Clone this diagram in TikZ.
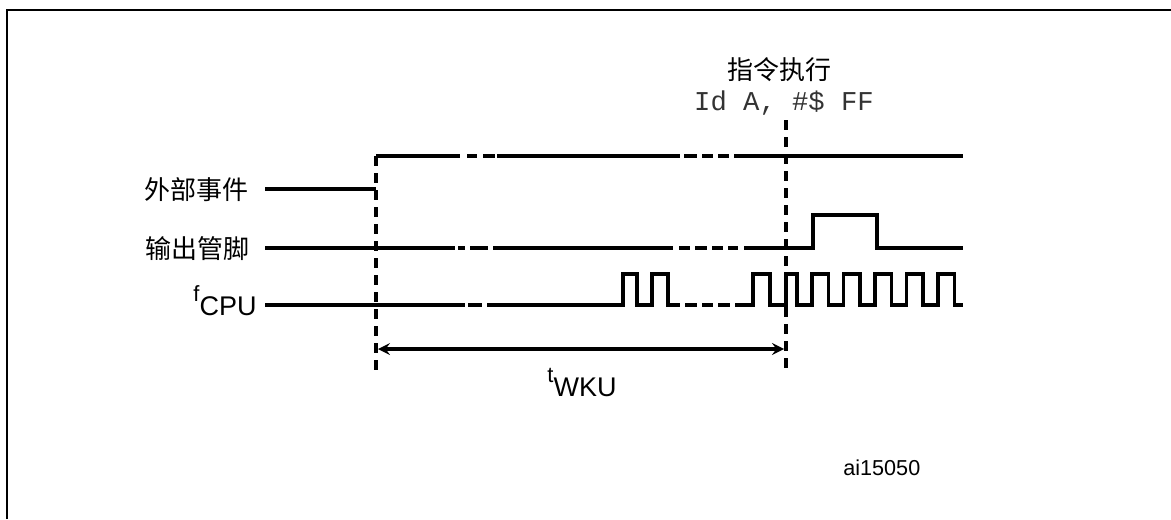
\documentclass[tikz,border=0pt]{standalone}
\usepackage{fontspec}
\setmainfont{Liberation Sans}
\newfontfamily\cjk{Noto Sans CJK SC}
\newfontfamily\cour{Liberation Mono}

\tikzset{
  wave/.style={line width=1.7pt, line join=miter},
  guide/.style={line width=1.6pt, dash pattern=on 5pt off 3.5pt},
  cjklabel/.style={font=\cjk\fontsize{13}{15}\selectfont, inner sep=0pt},
}

\begin{document}
\begin{tikzpicture}[x=0.5pt,y=-0.5pt]

  \useasboundingbox (0,0) rectangle (1171,519);
  \draw[line width=1.3pt] (7,519) -- (7,10) -- (1171,10);

  \node[cjklabel, anchor=east] (ext) at (249,190) {外部事件};
  \node[cjklabel, anchor=east] (pin) at (250,249) {输出管脚};
  \node[anchor=base east, inner sep=0pt, font=\fontsize{13.5}{15}\selectfont] (fcpu) at (257,315)
    {\raisebox{7pt}{\fontsize{11}{12}\selectfont f}CPU};

  \node[cjklabel] (instr) at (779,70) {指令执行};
  \node[inner sep=0pt, text=black!80, font=\cour\fontsize{13.6}{15}\selectfont] (code) at (784,103) {Id A, \#\$ FF};

  % external event
  \draw[wave] (265,189) -- (376,189);
  \draw[wave] (376,156) -- (460,156);
  \foreach \a/\b in {467/477, 483/495, 684/697, 702/713, 718/729} \draw[wave] (\a,156) -- (\b,156);
  \draw[wave] (497,156) -- (680,156);
  \draw[wave] (734,156) -- (963,156);

  % output pin
  \draw[wave] (265,248) -- (455,248);
  \foreach \a/\b in {458/465, 470/488, 679/690, 695/707, 712/723, 728/738} \draw[wave] (\a,248) -- (\b,248);
  \draw[wave] (493,248) -- (673,248);
  \draw[wave] (744,248) -- (813,248) -- (813,215) -- (877,215) -- (877,248) -- (963,248);

  % cpu clock
  \draw[wave] (265,305) -- (465,305);
  \foreach \a/\b in {468/482, 685/697, 702/713, 718/730} \draw[wave] (\a,305) -- (\b,305);
  \draw[wave] (487,305) -- (623,305) -- (623,274) -- (637,274) -- (637,305) -- (652,305)
    -- (652,274) -- (668,274) -- (668,305) -- (680,305);
  \draw[wave] (735,305) -- (753,305) -- (753,274) -- (770,274) -- (770,305) -- (786,305)
    -- (786,274) -- (797,274) -- (797,305)
    \foreach \r in {812,843.5,875,906.5,938} { -- (\r,305) -- (\r,274) -- (\r+16.5,274) -- (\r+16.5,305) }
    -- (963,305);

  % wake-up time
  \coordinate (w0) at (376,156);
  \coordinate (w1) at (376,376);
  \coordinate (x0) at (786,120);
  \coordinate (x1) at (786,374);
  \draw[guide] (w0) -- (w1);
  \draw[guide] (x0) -- (x1);
  \coordinate (a0) at (378,349);
  \coordinate (a1) at (784,349);
  \draw[<->, >=stealth, line width=1.6pt] (a0) -- (a1);
  \node[anchor=base, inner sep=0pt, font=\fontsize{13.5}{15}\selectfont] (twku) at (582,396)
    {\raisebox{7pt}{\fontsize{11}{12}\selectfont t}WKU};

  \node[anchor=west, inner sep=0pt, font=\fontsize{10.8}{12}\selectfont] (fig) at (843,468) {ai15050};

\end{tikzpicture}
\end{document}
